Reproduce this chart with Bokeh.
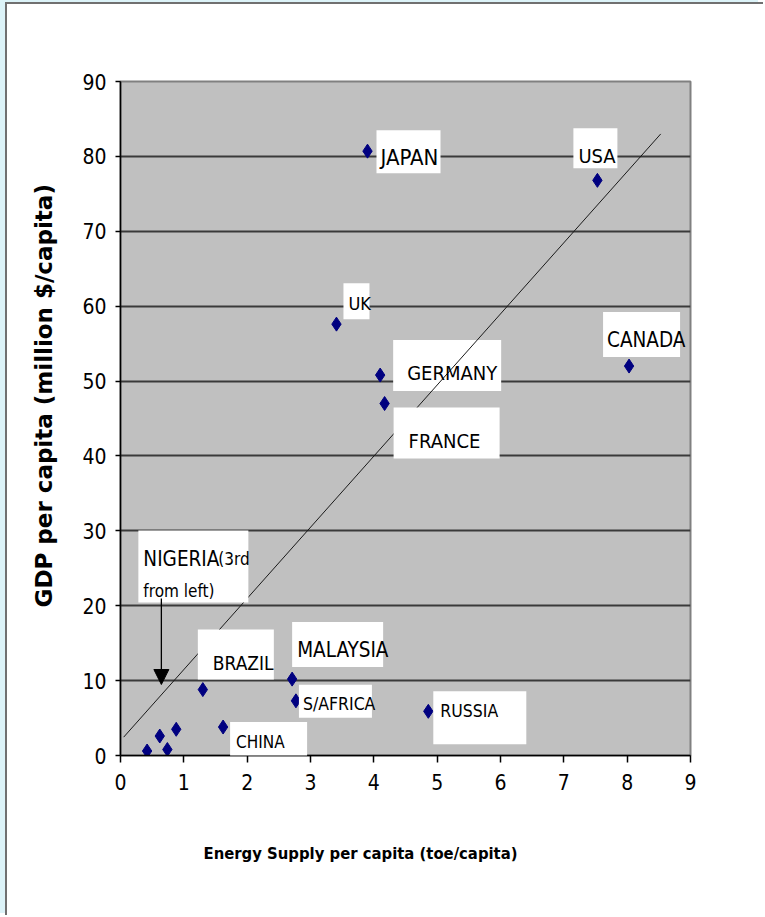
from bokeh.plotting import figure
from bokeh.models import (ColumnDataSource, FixedTicker, BoxAnnotation, LabelSet,
                          Arrow, NormalHead, Title)
from bokeh.core.properties import value
from bokeh.embed import file_html
from bokeh.resources import INLINE

# ---- data -------------------------------------------------------------
countries = ["JAPAN", "USA", "UK", "CANADA", "GERMANY", "FRANCE",
             "MALAYSIA", "S/AFRICA", "BRAZIL", "CHINA", "RUSSIA"]
energy = [3.90, 7.53, 3.41, 8.03, 4.10, 4.17, 2.71, 2.77, 1.30, 1.62, 4.86]
gdp = [80.7, 76.8, 57.6, 52.0, 50.8, 47.0, 10.2, 7.3, 8.8, 3.8, 5.9]

# unlabelled low-income economies, left to right (Nigeria is the third)
low_energy = [0.42, 0.62, 0.74, 0.88]
low_gdp = [0.6, 2.6, 0.8, 3.5]
NIGERIA_INDEX = 2

# fitted trend line end points
trend_energy = [0.05, 8.53]
trend_gdp = [2.45, 83.0]

x_ticks = list(range(0, 10))
y_ticks = list(range(0, 100, 10))

# ---- layout -----------------------------------------------------------
FRAME_W, FRAME_H = 570, 674
SX = FRAME_W / 9.0      # px per toe/capita
SY = FRAME_H / 90.0     # px per million $/capita

NARROW = "Liberation Sans Narrow, DejaVu Sans Condensed, Liberation Sans"

# label placement, in px relative to its marker (dy positive = downward):
# text dx, text dy, font px, box left, box right, box top, box bottom
label_layout = {
    "JAPAN":    (13,   6, 22,   9,  73, -21,  22),
    "USA":      (-19, -24, 20, -24,  20, -52, -12),
    "UK":       (12,  -21, 18,   7,  33, -41,  -5),
    "CANADA":   (-22, -26, 20.5, -26,  51, -54,  -9),
    "GERMANY":  (27,   -2, 20,  13, 121, -35,  16),
    "FRANCE":   (24,   37, 20,   9, 115,   4,  55),
    "MALAYSIA": (5,   -29, 20.5, 0,  91, -57, -12),
    "S/AFRICA": (7,     3, 17.5, 3,  76, -16,  17),
    "BRAZIL":   (10,  -27, 19,  -5,  71, -60, -10),
    "CHINA":    (13,   15, 17,   7,  84,  -5,  33),
    "RUSSIA":   (12,    0, 17.5, 5,  98, -20,  33),
}


def at(x, y, dx, dy):
    """Data position shifted by a pixel offset (dy downward)."""
    return x + dx / SX, y - dy / SY


p = figure(width=758, height=913, x_range=(0, 9), y_range=(0, 90),
           output_backend="svg", toolbar_location=None,
           min_border_left=113, min_border_right=75,
           min_border_top=77, min_border_bottom=162,
           background_fill_color="#c0c0c0", border_fill_color="white")
p.styles = {
    "margin-left": "5px", "margin-top": "2px",
    "border-left": "2px solid #707070", "border-top": "2px solid #707070",
    "box-shadow": "-5px -2px 0 0 #dcf3f8",
}

p.outline_line_color = "#808080"
p.outline_line_width = 2

# axes
for ax, tks in ((p.xaxis, x_ticks), (p.yaxis, y_ticks)):
    ax.ticker = FixedTicker(ticks=tks)
    ax.minor_tick_line_color = None
    ax.major_tick_in = 0
    ax.axis_line_color = "black"
    ax.axis_line_width = 1.5
    ax.major_tick_line_color = "black"
    ax.major_tick_line_width = 1.5
    ax.major_label_text_font = NARROW
    ax.major_label_text_font_size = "21px"
    ax.major_label_text_color = "black"
p.yaxis.major_tick_out = 5
p.yaxis.major_label_standoff = 9
p.xaxis.major_tick_out = 7
p.xaxis.major_label_standoff = 11

p.xgrid.visible = False
p.ygrid.ticker = FixedTicker(ticks=y_ticks[1:-1])
p.ygrid.grid_line_color = "#3a3a3a"
p.ygrid.grid_line_width = 2

# axis titles, placed off-centre along their axes
p.add_layout(Title(text="Energy Supply per capita (toe/capita)", align="left",
                   offset=83, standoff=102, vertical_align="top",
                   text_font=NARROW, text_font_style="bold",
                   text_font_size="16.5px", text_color="black"), "below")
p.add_layout(Title(text="GDP per capita (million $/capita)", align="left",
                   offset=148, standoff=43, vertical_align="middle",
                   text_font="DejaVu Sans", text_font_style="bold",
                   text_font_size="23px", text_color="black"), "left")

# boxes behind the labels
lookup = dict(zip(countries, zip(energy, gdp)))
for name in countries:
    x, y = lookup[name]
    dx, dy, fs, bl, br, bt, bb = label_layout[name]
    left, top = at(x, y, bl, bt)
    right, bottom = at(x, y, br, bb)
    if name == "GERMANY":
        # this one sits underneath the trend line
        p.quad(left=[left], right=[right], top=[top], bottom=[bottom],
               fill_color="white", line_color=None)
    else:
        p.add_layout(BoxAnnotation(left=left, right=right, top=top, bottom=bottom,
                                   fill_color="white", fill_alpha=1.0,
                                   line_color=None))

# trend line
p.line(trend_energy, trend_gdp, line_color="#1a1a1a", line_width=1)

# markers
p.scatter(energy, gdp, marker="diamond", size=14, color="#000080")
p.scatter(low_energy, low_gdp, marker="diamond", size=14, color="#000080")

# Nigeria call-out
nx, ny = low_energy[NIGERIA_INDEX], low_gdp[NIGERIA_INDEX]
nl, nt = at(nx, ny, -29, -219)
nr, nb = at(nx, ny, 81, -147)
p.add_layout(BoxAnnotation(left=nl, right=nr, top=nt, bottom=nb,
                           fill_color="white", fill_alpha=1.0, line_color=None))
ax0, ay0 = at(nx, ny, -6, -151)
ax1, ay1 = at(nx, ny, -6, -65)
p.add_layout(Arrow(x_start=ax0, y_start=ay0, x_end=ax1, y_end=ay1,
                   line_color="black", line_width=1.3,
                   end=NormalHead(size=15, fill_color="black", line_color="black")))

# label texts
lab_x, lab_y, lab_t, lab_s = [], [], [], []
for name in countries:
    x, y = lookup[name]
    dx, dy, fs = label_layout[name][:3]
    tx, ty = at(x, y, dx, dy)
    lab_x.append(tx); lab_y.append(ty); lab_t.append(name); lab_s.append(f"{fs}px")
for txt, dx, dy, fs in (("NIGERIA", -24, -191, 20.5), ("(3rd", 51, -191, 17),
                        ("from left)", -24, -159, 17)):
    tx, ty = at(nx, ny, dx, dy)
    lab_x.append(tx); lab_y.append(ty); lab_t.append(txt); lab_s.append(f"{fs}px")

src = ColumnDataSource(dict(x=lab_x, y=lab_y, text=lab_t, size=lab_s))
p.add_layout(LabelSet(x="x", y="y", text="text", source=src,
                      text_font=value(NARROW), text_font_size="size",
                      text_color="black", text_align="left",
                      text_baseline="middle"))

open("out.html", "w").write(file_html(p, INLINE))
